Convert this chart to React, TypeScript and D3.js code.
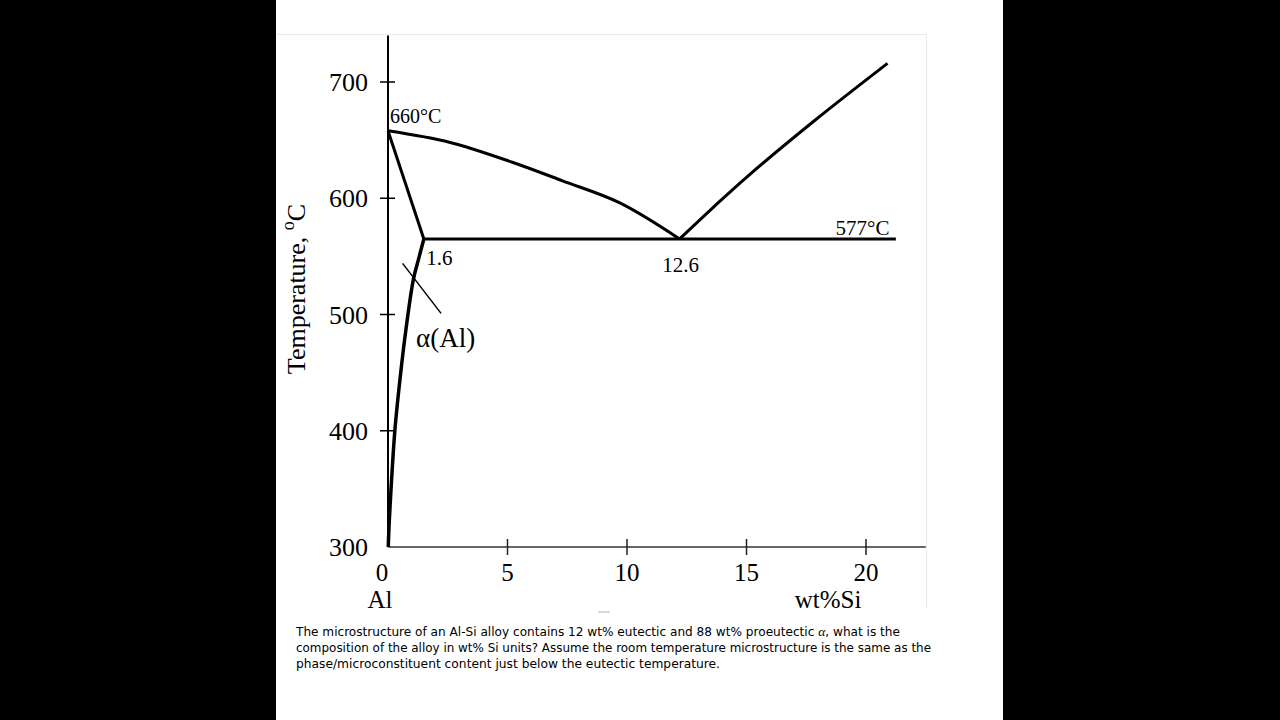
import React from "react";
import * as d3 from "d3";

// ---- data (wt% Si, temperature °C) ----
const liquidusAl: [number, number][] = [
  [0, 658], [2.6, 648], [5.2, 631], [7.3, 615], [9.7, 596], [12.2, 565],
];
const liquidusSi: [number, number][] = [
  [12.2, 565], [13.6, 592], [15.0, 618], [17.8, 666], [20.9, 716],
];
const solidus: [number, number][] = [[0, 658], [1.5, 565]];
const solvus: [number, number][] = [
  [1.5, 565], [1.27, 547], [1.06, 530], [0.75, 487], [0.5, 444],
  [0.29, 401], [0.15, 358], [0.05, 321], [0.01, 300],
];
const eutecticLine: [number, number][] = [[1.5, 565], [21.25, 565]];
const leaderLine: [number, number][] = [[0.61, 544], [2.22, 501]];

const xTicks = [0, 5, 10, 15, 20];
const yTicks = [300, 400, 500, 600, 700];

const captionLines = [
  "The microstructure of an Al-Si alloy contains 12 wt% eutectic and 88 wt% proeutectic ",
  "composition of the alloy in wt% Si units? Assume the room temperature microstructure is the same as the",
  "phase/microconstituent content just below the eutectic temperature.",
];

export default function App() {
  const x = d3.scaleLinear().domain([0, 20]).range([388, 866]);
  const y = d3.scaleLinear().domain([300, 700]).range([547, 82]);
  const xMax = 22.5;
  const yMax = 740;

  const smooth = d3
    .line<[number, number]>()
    .x((d) => x(d[0]))
    .y((d) => y(d[1]))
    .curve(d3.curveCatmullRom.alpha(0.5));
  const straight = d3
    .line<[number, number]>()
    .x((d) => x(d[0]))
    .y((d) => y(d[1]));

  const serif = "'Liberation Serif', 'Times New Roman', serif";
  const x0 = x(0);
  const yBase = y(300);

  return (
    <svg
      width={1280}
      height={720}
      style={{ position: "absolute", left: 0, top: 0 }}
      xmlns="http://www.w3.org/2000/svg"
    >
      <rect x={0} y={0} width={1280} height={720} fill="#000" />
      <rect x={276} y={0} width={727} height={720} fill="#fff" />
      {/* faint frame of pasted figure */}
      <path d="M276,34.5 H926.5 V608" fill="none" stroke="#e6eaee" strokeWidth={1} />
      <rect x={598} y={611} width={12} height={2} fill="#d8d8d8" />

      {/* axes */}
      <line x1={x0} x2={x0} y1={y(yMax)} y2={yBase} stroke="#000" strokeWidth={2} />
      <line x1={x0} x2={x(xMax)} y1={yBase} y2={yBase} stroke="#333" strokeWidth={1.4} />
      {yTicks.map((t) => (
        <g key={"yt" + t}>
          {t !== 300 && (
            <line x1={x0 - 8} x2={x0 + 7} y1={y(t)} y2={y(t)} stroke="#000" strokeWidth={1.5} />
          )}
          <text
            x={x0 - 20}
            y={y(t) + 9}
            textAnchor="end"
            fontFamily={serif}
            fontSize={26}
            fill="#000"
          >
            {t}
          </text>
        </g>
      ))}
      {xTicks.map((t) => (
        <g key={"xt" + t}>
          {t !== 0 && (
            <line x1={x(t)} x2={x(t)} y1={yBase - 8} y2={yBase + 8} stroke="#222" strokeWidth={1.5} />
          )}
          <text
            x={t === 0 ? x(t) - 6 : x(t)}
            y={yBase + 34}
            textAnchor="middle"
            fontFamily={serif}
            fontSize={25}
            fill="#000"
          >
            {t}
          </text>
        </g>
      ))}
      <text x={x0 - 8} y={yBase + 61} textAnchor="middle" fontFamily={serif} fontSize={25}>
        Al
      </text>
      <text x={828} y={yBase + 61} textAnchor="middle" fontFamily={serif} fontSize={25}>
        wt%Si
      </text>
      <text
        transform={`translate(305, 289) rotate(-90)`}
        textAnchor="middle"
        fontFamily={serif}
        fontSize={26}
      >
        Temperature,{" "}
        <tspan fontSize={18} dy={-11}>o</tspan>
        <tspan dy={11}>C</tspan>
      </text>

      {/* phase boundaries */}
      <path d={smooth(liquidusAl) || ""} fill="none" stroke="#000" strokeWidth={3} strokeLinejoin="round" />
      <path d={smooth(liquidusSi) || ""} fill="none" stroke="#000" strokeWidth={3} strokeLinejoin="round" />
      <path d={straight(solidus) || ""} fill="none" stroke="#000" strokeWidth={3} />
      <path d={smooth(solvus) || ""} fill="none" stroke="#000" strokeWidth={3.5} />
      <path d={straight(eutecticLine) || ""} fill="none" stroke="#000" strokeWidth={3} />
      <path d={straight(leaderLine) || ""} fill="none" stroke="#000" strokeWidth={1.5} />

      {/* annotations */}
      <text x={x(0) + 2} y={y(658) - 8} fontFamily={serif} fontSize={20}>660°C</text>
      <text x={x(1.6)} y={y(565) + 26} fontFamily={serif} fontSize={21}>1.6</text>
      <text x={x(12.2) + 1} y={y(565) + 33} textAnchor="middle" fontFamily={serif} fontSize={21}>12.6</text>
      <text x={x(20.9) + 2} y={y(565) - 4} textAnchor="end" fontFamily={serif} fontSize={21}>577°C</text>
      <text x={x(2.22) - 25} y={y(501) + 34} fontFamily={serif} fontSize={27}>α(Al)</text>

      {/* caption */}
      <g fontFamily="'DejaVu Sans Condensed', 'DejaVu Sans', sans-serif" fontSize={13} fill="#000">
        <text x={296} y={636} textLength={604} lengthAdjust="spacingAndGlyphs">
          {captionLines[0]}
          <tspan fontFamily={serif} fontStyle="italic" fontSize={13}>α</tspan>
          {", what is the"}
        </text>
        <text x={296} y={652} textLength={635} lengthAdjust="spacingAndGlyphs">
          {captionLines[1]}
        </text>
        <text x={296} y={668} textLength={424} lengthAdjust="spacingAndGlyphs">
          {captionLines[2]}
        </text>
      </g>
    </svg>
  );
}
